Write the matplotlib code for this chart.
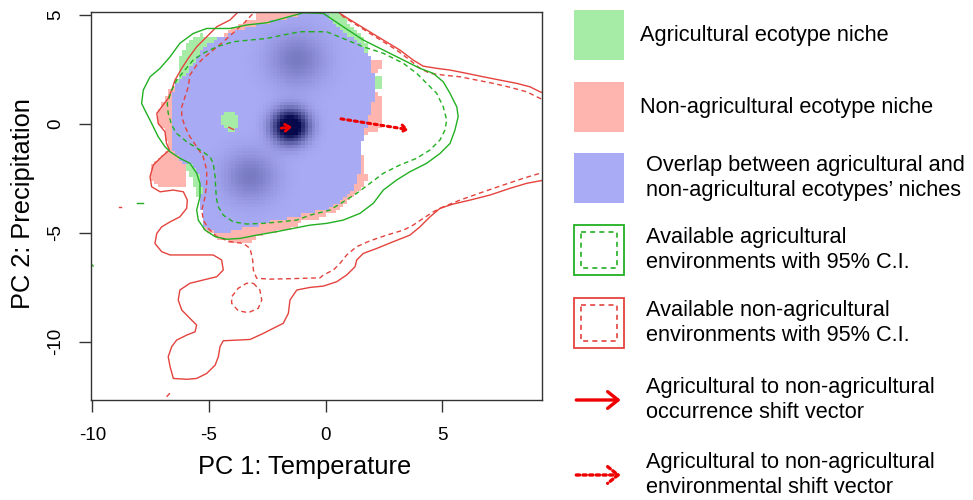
import numpy as np
import matplotlib.pyplot as plt
from matplotlib.path import Path
from matplotlib.patches import Rectangle, FancyArrowPatch

plt.rcParams['font.family'] = ['Liberation Sans', 'DejaVu Sans']

# --- 1. DATA (PC1, PC2 coordinates) ---
X_LIM = (-10.06, 9.26)
Y_LIM = (-12.67, 5.16)
X_TICKS = [-10, -5, 0, 5]
Y_TICKS = [-10, -5, 0, 5]

# Niche outlines of the two ecotypes
AGRI_NICHE = [
    (-1.10, 5.46), (0.31, 5.46), (1.04, 4.55), (1.68, 3.86), (1.90, 2.94), (2.04, 2.17),
    (2.33, 2.11), (2.33, 1.65), (2.11, 1.56), (1.97, 0.79), (1.76, 0.03), (1.61, -0.58),
    (1.47, -1.19), (1.47, -1.96), (1.33, -2.72), (1.04, -3.18), (0.61, -3.57), (0.18, -3.86),
    (-0.24, -3.99), (-0.81, -4.10), (-1.53, -4.33), (-2.10, -4.41), (-2.82, -4.64),
    (-3.67, -4.79), (-4.24, -5.02), (-4.67, -5.02), (-5.17, -4.72), (-5.31, -4.26),
    (-5.39, -3.49), (-5.52, -3.26), (-5.69, -2.80), (-5.90, -2.20), (-6.25, -1.65),
    (-6.60, -1.19), (-6.67, -0.58), (-6.60, 0.03), (-6.60, 0.79), (-6.53, 1.41),
    (-6.39, 2.02), (-6.33, 2.71), (-6.12, 3.40), (-5.82, 3.86), (-5.39, 4.09), (-4.96, 3.95),
    (-4.39, 4.01), (-3.81, 4.22), (-2.96, 4.55), (-2.10, 4.70), (-1.24, 4.93),
]
NONAGRI_NICHE = [
    (-2.96, 5.46), (-0.33, 5.46), (0.33, 4.62), (0.90, 4.09), (1.61, 3.55), (1.81, 3.03),
    (2.33, 2.94), (2.33, 2.57), (2.04, 2.17), (2.11, 1.47), (2.33, 1.33), (2.33, -0.28),
    (1.81, -0.41), (1.61, -0.73), (1.47, -1.19), (1.60, -1.52), (1.76, -2.57), (1.38, -3.12),
    (1.04, -3.35), (0.83, -3.72), (0.40, -4.04), (-0.24, -4.32), (-1.10, -4.50),
    (-1.44, -4.78), (-2.17, -4.96), (-2.82, -5.14), (-3.24, -5.46), (-4.10, -5.46),
    (-4.67, -5.23), (-5.17, -4.87), (-5.31, -4.26), (-5.39, -3.49), (-5.31, -3.03),
    (-5.39, -2.48), (-5.68, -1.97), (-6.03, -1.74), (-5.99, -2.39), (-6.07, -2.85),
    (-6.67, -2.94), (-7.24, -2.89), (-7.56, -2.43), (-7.46, -1.88), (-7.03, -1.50),
    (-6.76, -1.19), (-6.82, -0.89), (-6.96, -0.32), (-7.23, 0.05), (-7.24, 0.49),
    (-7.02, 0.92), (-6.85, 1.29), (-6.59, 1.65), (-6.32, 1.94), (-5.96, 2.33), (-5.39, 3.25),
    (-4.96, 3.71), (-4.39, 4.01), (-4.10, 4.32), (-3.67, 4.59), (-2.96, 4.77),
]
# agricultural-only island inside the overlap
NONAGRI_HOLE = [
    (-4.27, 0.55), (-3.93, 0.56), (-3.75, 0.32), (-3.76, -0.14), (-3.97, -0.43),
    (-4.19, -0.37), (-4.44, -0.05), (-4.46, 0.32),
]

# Overlap density peaks
PEAK_X = [-1.53, -1.24, -3.24]
PEAK_Y = [-0.12, 2.94, -2.42]
PEAK_W = [1.35, 0.30, 0.30]
PEAK_S = [0.52, 0.85, 0.80]

# Available environments (solid = outer, dashed = inner)
AGRI_ENV_OUTER = [[
    (-0.10, 5.08), (0.75, 4.47), (1.61, 3.86), (2.47, 3.40), (3.33, 2.94), (4.04, 2.56),
    (4.61, 2.33), (5.04, 1.94), (5.33, 1.41), (5.62, 0.79), (5.68, 0.34), (5.54, -0.28),
    (5.33, -0.89), (4.90, -1.35), (4.33, -1.80), (3.61, -2.19), (3.04, -2.57), (2.47, -3.03),
    (2.04, -3.64), (1.47, -4.10), (0.75, -4.41), (0.04, -4.56), (-0.67, -4.64),
    (-1.39, -4.79), (-2.10, -4.94), (-2.96, -5.10), (-3.67, -5.25), (-4.24, -5.29),
    (-4.74, -5.17), (-5.17, -4.87), (-5.46, -4.41), (-5.53, -3.95), (-5.39, -3.34),
    (-5.39, -2.72), (-5.53, -2.26), (-5.82, -1.80), (-6.25, -1.57), (-6.67, -1.27),
    (-6.89, -1.04), (-7.18, -0.58), (-7.46, 0.03), (-7.75, 0.64), (-7.89, 0.95),
    (-7.82, 1.56), (-7.53, 2.17), (-7.10, 2.56), (-6.67, 3.09), (-6.25, 3.71), (-5.68, 4.16),
    (-5.10, 4.39), (-4.10, 4.39), (-3.39, 4.55), (-2.53, 4.65), (-0.96, 5.11), (-0.10, 5.08),
], [(-8.10, -3.64), (-7.82, -3.64)], [(-9.99, -6.48), (-9.97, -6.52)]]
AGRI_ENV_INNER = [[
    (-0.67, 4.24), (0.04, 4.24), (0.75, 3.93), (1.61, 3.55), (2.47, 3.25), (3.33, 2.79),
    (3.90, 2.33), (4.33, 1.87), (4.76, 1.41), (5.04, 0.79), (5.19, 0.18), (5.11, -0.28),
    (4.90, -0.73), (4.47, -1.19), (3.90, -1.57), (3.18, -1.88), (2.47, -2.26), (1.90, -2.72),
    (1.33, -3.18), (0.75, -3.57), (0.18, -3.95), (-0.67, -4.18), (-1.24, -4.41),
    (-1.96, -4.49), (-2.67, -4.56), (-3.39, -4.59), (-3.96, -4.49), (-4.39, -4.18),
    (-4.60, -3.80), (-4.67, -3.49), (-4.70, -3.18), (-4.74, -2.42), (-4.82, -1.80),
    (-4.96, -1.50), (-5.39, -1.19), (-5.96, -0.81), (-6.39, -0.43), (-6.60, -0.05),
    (-6.75, 0.49), (-6.79, 0.95), (-6.60, 1.56), (-6.39, 2.02), (-6.10, 2.40), (-5.68, 2.94),
    (-5.25, 3.25), (-4.67, 3.55), (-3.96, 3.78), (-3.24, 3.86), (-2.53, 3.93), (-1.82, 4.09),
    (-1.10, 4.24), (-0.67, 4.24),
]]
NONAGRI_ENV_OUTER = [[
    (-3.46, 5.46), (-4.10, 4.78), (-4.67, 4.47), (-5.10, 4.01), (-5.53, 3.55), (-5.89, 3.02),
    (-6.17, 2.56), (-6.46, 2.02), (-6.60, 1.56), (-6.75, 1.18), (-7.03, 0.79), (-7.24, 0.49),
    (-7.18, 0.03), (-6.89, -0.35), (-6.82, -0.89), (-6.70, -1.19), (-7.03, -1.50),
    (-7.39, -1.88), (-7.53, -2.42), (-7.46, -2.88), (-7.10, -3.11), (-6.53, -3.03),
    (-6.10, -3.11), (-5.93, -3.49), (-5.96, -3.87), (-6.25, -4.26), (-6.67, -4.49),
    (-7.03, -4.72), (-7.24, -5.02), (-7.32, -5.48), (-7.03, -5.86), (-6.67, -6.01),
    (-5.82, -6.01), (-4.82, -6.01), (-4.46, -6.24), (-4.39, -6.70), (-4.67, -7.01),
    (-5.25, -7.16), (-5.82, -7.31), (-6.25, -7.62), (-6.32, -8.08), (-6.17, -8.54),
    (-5.82, -8.92), (-5.53, -9.23), (-5.60, -9.54), (-5.96, -9.69), (-6.39, -9.92),
    (-6.60, -10.22), (-6.75, -10.68), (-6.67, -11.14), (-6.53, -11.68), (-5.96, -11.72),
    (-5.53, -11.68), (-5.10, -11.45), (-4.74, -11.07), (-4.60, -10.68), (-4.53, -10.22),
    (-4.39, -9.95), (-3.81, -9.92), (-3.24, -9.89), (-2.67, -9.61), (-2.25, -9.38),
    (-1.82, -9.15), (-1.60, -8.69), (-1.53, -8.08), (-1.24, -7.62), (-0.67, -7.50),
    (-0.10, -7.44), (0.47, -7.24), (0.90, -6.93), (1.26, -6.55), (1.33, -6.24), (1.61, -5.94),
    (2.19, -5.71), (2.90, -5.40), (3.61, -5.10), (4.04, -4.72), (4.47, -4.26), (4.90, -3.87),
    (5.47, -3.67), (6.19, -3.49), (7.04, -3.26), (7.90, -2.95), (8.62, -2.72), (9.22, -2.60),
    (9.83, -2.48),
], [
    (0.40, 5.46), (0.61, 5.08), (1.18, 4.70), (1.76, 4.32), (2.47, 3.86), (3.18, 3.40),
    (3.75, 2.94), (4.18, 2.66), (4.76, 2.56), (5.33, 2.48), (6.04, 2.33), (6.76, 2.17),
    (7.47, 2.02), (8.19, 1.87), (8.76, 1.71), (9.19, 1.48), (9.83, 1.24),
], [(-8.85, -3.82), (-8.77, -3.82)], [(-6.80, -12.50), (-6.70, -12.38)],
   [(-4.15, -0.15), (-3.95, -0.25)]]
NONAGRI_ENV_INNER = [[
    (-2.90, 5.33), (-3.46, 4.68), (-3.97, 4.18), (-4.39, 3.78), (-4.82, 3.40), (-5.25, 3.02),
    (-5.53, 2.71), (-5.82, 2.25), (-5.89, 1.71), (-6.03, 1.25), (-6.17, 0.79), (-6.17, 0.34),
    (-6.03, -0.12), (-5.82, -0.58), (-5.53, -1.04), (-5.25, -1.50), (-5.10, -2.11),
    (-5.10, -2.72), (-5.17, -3.34), (-5.31, -3.95), (-5.25, -4.41), (-5.03, -4.79),
    (-4.67, -5.17), (-4.10, -5.40), (-3.53, -5.48), (-3.24, -5.71), (-3.13, -6.24),
    (-3.10, -6.70), (-2.96, -7.08), (-2.39, -7.12), (-1.53, -7.10), (-0.24, -7.06),
    (-0.10, -6.93), (0.33, -6.70), (0.61, -6.40), (0.90, -6.01), (1.33, -5.63), (1.90, -5.36),
    (2.61, -5.10), (3.33, -4.87), (3.75, -4.64), (4.18, -4.33), (4.61, -4.03), (5.04, -3.80),
    (5.76, -3.49), (6.76, -3.11), (7.61, -2.80), (8.47, -2.49), (9.19, -2.26), (9.83, -2.07),
], [
    (0.44, 5.33), (0.75, 4.93), (1.33, 4.55), (1.90, 4.16), (2.47, 3.78), (3.04, 3.40),
    (3.61, 2.94), (4.04, 2.56), (4.47, 2.33), (5.04, 2.25), (5.76, 2.17), (6.47, 2.02),
    (7.18, 1.87), (7.90, 1.69), (8.62, 1.48), (9.19, 1.18), (9.83, 0.92),
], [
    (-3.10, -7.31), (-2.82, -7.62), (-2.74, -8.08), (-2.89, -8.46), (-3.32, -8.66),
    (-3.75, -8.57), (-4.03, -8.23), (-4.03, -7.93), (-3.75, -7.54), (-3.39, -7.31),
    (-3.10, -7.31),
]]

# Shift vectors (tail, head)
OCC_SHIFT = [(-2.03, -0.20), (-1.32, -0.12)]
ENV_SHIFT = [(0.54, 0.26), (3.69, -0.28)]

LEGEND_LABELS = [
    "Agricultural ecotype niche",
    "Non-agricultural ecotype niche",
    "Overlap between agricultural and\nnon-agricultural ecotypes\u2019 niches",
    "Available agricultural\nenvironments with 95% C.I.",
    "Available non-agricultural\nenvironments with 95% C.I.",
    "Agricultural to non-agricultural\noccurrence shift vector",
    "Agricultural to non-agricultural\nenvironmental shift vector",
]

# --- colours ---
GREEN_FILL = np.array([166, 236, 166]) / 255
PINK_FILL = np.array([255, 181, 175]) / 255
BLUE_LIGHT = np.array([170, 171, 245]) / 255
BLUE_DARK = np.array([5, 8, 75]) / 255
GREEN_LINE = '#22b022'
RED_LINE = '#e4433d'
ARROW_RED = '#ee0000'


def niche_raster(step=0.15):
    gx = np.arange(X_LIM[0], X_LIM[1] + step, step)
    gy = np.arange(Y_LIM[0], Y_LIM[1] + step, step)
    GX, GY = np.meshgrid(gx + step / 2, gy + step / 2)
    pts = np.column_stack([GX.ravel(), GY.ravel()])
    in_a = Path(AGRI_NICHE).contains_points(pts).reshape(GX.shape)
    in_n = Path(NONAGRI_NICHE).contains_points(pts).reshape(GX.shape)
    in_n &= ~Path(NONAGRI_HOLE).contains_points(pts).reshape(GX.shape)

    dens = np.zeros(GX.shape)
    for px, py, w, s in zip(PEAK_X, PEAK_Y, PEAK_W, PEAK_S):
        dens += w * np.exp(-((GX - px) ** 2 + (GY - py) ** 2) / (2 * s ** 2))
    t = np.clip(dens, 0, 1)[..., None]
    blue = BLUE_LIGHT * (1 - t) + BLUE_DARK * t

    rgba = np.zeros(GX.shape + (4,))
    rgba[in_a & ~in_n, :3] = GREEN_FILL
    rgba[in_n & ~in_a, :3] = PINK_FILL
    both = in_a & in_n
    rgba[both, :3] = blue[both]
    rgba[in_a | in_n, 3] = 1
    extent = (gx[0], gx[-1] + step, gy[0], gy[-1] + step)
    return rgba, extent


fig = plt.figure(figsize=(9.73, 5.0), dpi=100)
ax = fig.add_axes([91 / 973, 0.2, 450.7 / 973, 0.7766])

rgba, extent = niche_raster()
ax.imshow(rgba, extent=extent, origin='lower', interpolation='nearest', aspect='auto', zorder=1)

for pieces, color, ls in [(NONAGRI_ENV_OUTER, RED_LINE, '-'), (NONAGRI_ENV_INNER, RED_LINE, '--'),
                          (AGRI_ENV_OUTER, GREEN_LINE, '-'), (AGRI_ENV_INNER, GREEN_LINE, '--')]:
    for piece in pieces:
        arr = np.array(piece)
        line, = ax.plot(arr[:, 0], arr[:, 1], color=color, lw=1.0, linestyle=ls, zorder=2)
        if ls == '--':
            line.set_dashes((3.5, 2.5))

ax.annotate('', xy=OCC_SHIFT[1], xytext=OCC_SHIFT[0],
            arrowprops=dict(arrowstyle='->,head_length=0.35,head_width=0.25', color=ARROW_RED, lw=2.0),
            zorder=4)
ax.annotate('', xy=ENV_SHIFT[1], xytext=ENV_SHIFT[0],
            arrowprops=dict(arrowstyle='->,head_length=0.35,head_width=0.25', color=ARROW_RED, lw=2.2,
                            linestyle=(0, (1, 1.2))),
            zorder=4)

ax.set_xlim(X_LIM)
ax.set_ylim(Y_LIM)
ax.set_xticks(X_TICKS)
ax.set_yticks(Y_TICKS)
ax.set_xticklabels([str(v) for v in X_TICKS])
ax.set_yticklabels([str(v) for v in Y_TICKS], rotation=90, va='center')
ax.tick_params(direction='out', length=8.5, width=1.0, labelsize=13.6, pad=11, color='#333333')
for sp in ax.spines.values():
    sp.set_color('#333333')
    sp.set_linewidth(1.0)

fig.text(305 / 973, 1 - 467 / 500, 'PC 1: Temperature', fontsize=18.3, ha='center', va='center')
fig.text(23 / 973, 1 - 204 / 500, 'PC 2: Precipitation', fontsize=18.3, ha='center', va='center',
         rotation=90)

# --- legend (drawn in pixel space on the right) ---
lax = fig.add_axes([0, 0, 1, 1], zorder=-1)
lax.set_xlim(0, 973)
lax.set_ylim(500, 0)
lax.axis('off')

row_y = [35, 107, 178, 250, 323, 400, 475]
text_x = [640, 640, 646, 646, 646, 646, 646]
sw_x, sw = 573.5, 50
for i, (label, yc) in enumerate(zip(LEGEND_LABELS, row_y)):
    if i < 3:
        fill = [GREEN_FILL, PINK_FILL, BLUE_LIGHT][i]
        lax.add_patch(Rectangle((sw_x, yc - sw / 2), sw, sw, facecolor=fill, edgecolor='none'))
    elif i < 5:
        col = GREEN_LINE if i == 3 else RED_LINE
        lax.add_patch(Rectangle((sw_x, yc - sw / 2), sw, sw, facecolor='none', edgecolor=col, lw=1.3))
        lax.add_patch(Rectangle((sw_x + 7, yc - sw / 2 + 7), sw - 14, sw - 14, facecolor='none',
                                edgecolor=col, lw=1.2, linestyle=(0, (3, 2.5))))
    else:
        ls = '-' if i == 5 else (0, (1, 1.0))
        lax.add_patch(FancyArrowPatch((sw_x, yc), (sw_x + sw, yc),
                                      arrowstyle='->,head_length=5,head_width=4',
                                      color=ARROW_RED, lw=2.4, linestyle=ls, mutation_scale=1.5))
    lax.text(text_x[i], yc, label, fontsize=15.7, ha='left', va='center', linespacing=1.2)

fig.savefig('out.png', dpi=100)
